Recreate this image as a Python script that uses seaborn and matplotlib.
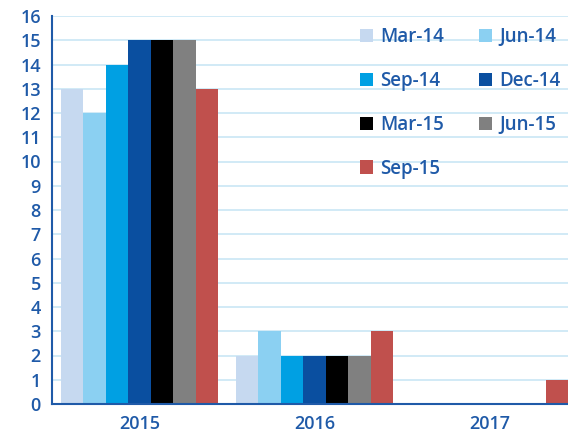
import pandas as pd
import matplotlib
matplotlib.use("Agg")
import matplotlib.pyplot as plt
import seaborn as sns

years = ["2015", "2016", "2017"]
series = ["Mar-14", "Jun-14", "Sep-14", "Dec-14", "Mar-15", "Jun-15", "Sep-15"]
values = {
    "Mar-14": [13, 2, 0],
    "Jun-14": [12, 3, 0],
    "Sep-14": [14, 2, 0],
    "Dec-14": [15, 2, 0],
    "Mar-15": [15, 2, 0],
    "Jun-15": [15, 2, 0],
    "Sep-15": [13, 3, 1],
}
colors = ["#c6d9f0", "#8bd0f2", "#00a0e3", "#0a4fa0", "#000000", "#808080", "#c0504d"]

rows = []
for s in series:
    for y, v in zip(years, values[s]):
        rows.append({"year": y, "series": s, "value": v})
df = pd.DataFrame(rows)

sns.set_style("white")
plt.rcParams["font.family"] = ["Open Sans", "DejaVu Sans"]
plt.rcParams["font.weight"] = "semibold"
blue = "#1f5aa8"

fig = plt.figure(figsize=(5.68, 4.34), dpi=100)
ax = fig.add_axes([52 / 568, 1 - 404 / 434, 525 / 568, 388 / 434])

sns.barplot(data=df, x="year", y="value", hue="series", palette=colors,
            width=0.9, saturation=1, linewidth=0, ax=ax)

ax.set_ylim(0, 16)
ax.set_xlim(-0.5, 2.5)
ax.set_yticks(range(0, 17))
ax.yaxis.grid(True, color="#c9e6f5", linewidth=1.2)
ax.set_axisbelow(True)
ax.set_xlabel("")
ax.set_ylabel("")
for side in ["top", "right"]:
    ax.spines[side].set_visible(False)
for side in ["left", "bottom"]:
    ax.spines[side].set_color(blue)
    ax.spines[side].set_linewidth(1.5)
ax.tick_params(axis="both", colors=blue, labelsize=13, length=0, pad=8)

# legend filled row by row
handles, labels = ax.get_legend_handles_labels()
order = [0, 2, 4, 6, 1, 3, 5]
leg = ax.legend([handles[i] for i in order], [labels[i] for i in order],
                ncol=2, loc="upper left", bbox_to_anchor=(0.562, 1.005), frameon=False,
                fontsize=13.5, labelcolor=blue, handlelength=0.7, handleheight=0.7,
                handletextpad=0.35, columnspacing=1.9, labelspacing=1.27,
                borderaxespad=0.3)

fig.savefig("out.png", dpi=100)
